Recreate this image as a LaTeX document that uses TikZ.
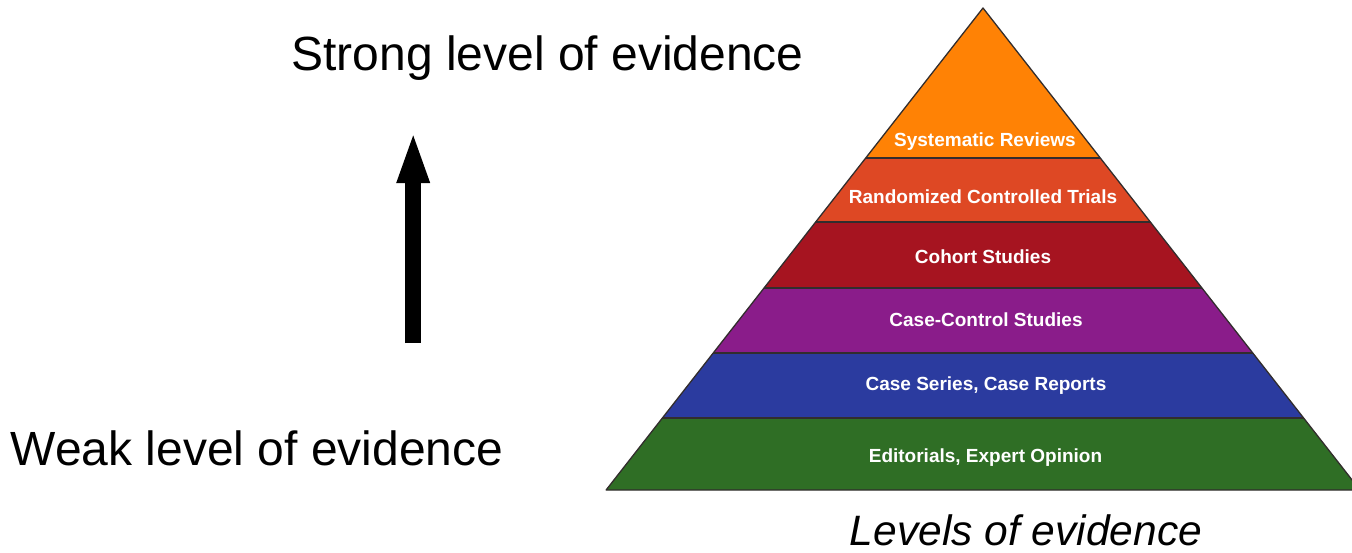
\documentclass[tikz,border=0pt]{standalone}
\usepackage{fontspec}
\setmainfont{Liberation Sans}
\usetikzlibrary{arrows.meta}
\definecolor{cOrange}{RGB}{255,130,5}
\definecolor{cRct}{RGB}{222,72,36}
\definecolor{cCohort}{RGB}{166,20,32}
\definecolor{cPurple}{RGB}{138,28,138}
\definecolor{cBlue}{RGB}{43,59,159}
\definecolor{cGreen}{RGB}{47,110,37}
\definecolor{cEdge}{RGB}{50,45,45}
\tikzset{
  bigtext/.style={anchor=base, inner sep=0pt, font=\fontsize{48}{56}\selectfont, text=black},
  captext/.style={anchor=base, inner sep=0pt, text depth=0pt, font=\fontsize{42.5}{50}\itshape\selectfont, text=black},
  layertext/.style={anchor=base, inner sep=0pt, font=\fontsize{19}{22}\bfseries\selectfont, text=white},
  layeredge/.style={draw=cEdge, line width=1.3pt, line join=round},
  bigarrow/.style={line width=15.5pt, -{Triangle[width=29pt,length=53pt]}}
}
\begin{document}
\begin{tikzpicture}[x=1pt,y=-1pt]
\useasboundingbox (0,0) rectangle (1352,552);
\clip (0,0) rectangle (1352,552);
% pyramid layers
\fill[cOrange] (983,8) -- (1100.3,158) -- (865.7,158) -- cycle;
\fill[cRct] (865.7,158) -- (1100.3,158) -- (1150.3,222) -- (815.7,222) -- cycle;
\fill[cCohort] (815.7,222) -- (1150.3,222) -- (1202,288) -- (764,288) -- cycle;
\fill[cPurple] (764,288) -- (1202,288) -- (1252.8,353) -- (713.2,353) -- cycle;
\fill[cBlue] (713.2,353) -- (1252.8,353) -- (1303.6,418) -- (662.4,418) -- cycle;
\fill[cGreen] (662.4,418) -- (1303.6,418) -- (1359.9,490) -- (606.1,490) -- cycle;
% separators and outline
\draw[layeredge] (865.7,158) -- (1100.3,158);
\draw[layeredge] (815.7,222) -- (1150.3,222);
\draw[layeredge] (764,288) -- (1202,288);
\draw[layeredge] (713.2,353) -- (1252.8,353);
\draw[layeredge] (662.4,418) -- (1303.6,418);
\draw[layeredge] (983,8) -- (1359.9,490) -- (606.1,490) -- cycle;
% layer labels
\node[layertext] (sr) at (985,146) {Systematic Reviews};
\node[layertext] (rct) at (983,203) {Randomized Controlled Trials};
\node[layertext] (cs) at (983,263) {Cohort Studies};
\node[layertext] (ccs) at (986,326) {Case-Control Studies};
\node[layertext] (csr) at (986,390) {Case Series, Case Reports};
\node[layertext] (eeo) at (985.5,462) {Editorials, Expert Opinion};
% side texts
\node[bigtext] (strong) at (547.5,70) {Strong level of evidence};
\node[bigtext] (weak) at (257,465) {Weak level of evidence};
\node[captext] (levels) at (1026,545.5) {Levels of evidence};
% arrow
\coordinate (arrowbot) at (413.2,343);
\coordinate (arrowtop) at (413.2,130);
\draw[bigarrow] (arrowbot) -- (arrowtop);
\end{tikzpicture}
\end{document}
